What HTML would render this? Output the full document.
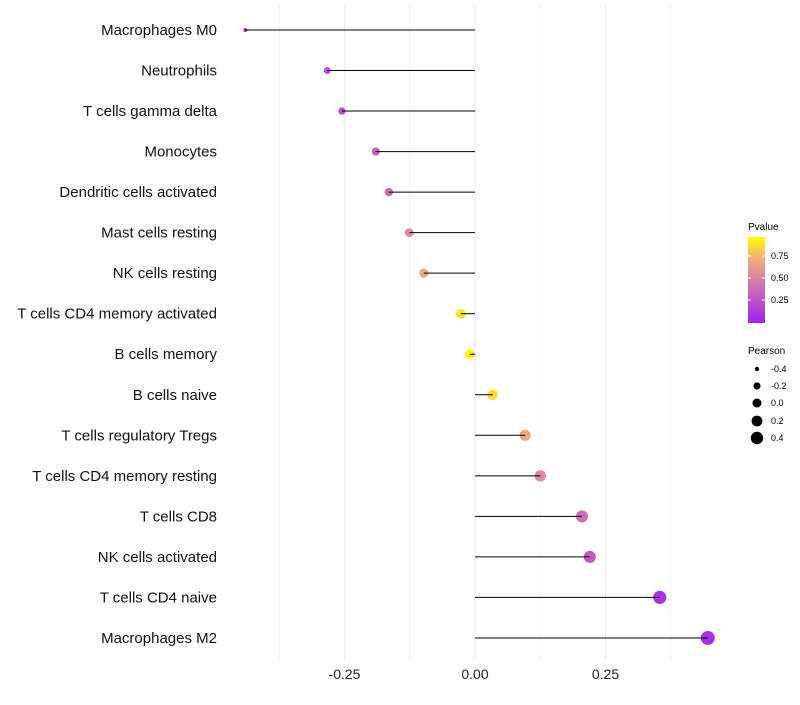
<!DOCTYPE html>
<html><head><meta charset="utf-8"><style>
body{margin:0;background:#fff;font-family:"Liberation Sans",sans-serif}
</style></head><body>
<svg id="c" width="800" height="700" xmlns="http://www.w3.org/2000/svg">
<defs><linearGradient id="pg" x1="0" y1="1" x2="0" y2="0">
<stop offset="0" stop-color="#A020F0"/><stop offset="0.5" stop-color="#D880A8"/><stop offset="0.75" stop-color="#F2B07A"/><stop offset="1" stop-color="#FFFF00"/></linearGradient></defs>
<g id="grid"></g><g id="dots"></g><g id="marks"></g><g id="labels"></g>
<g font-size="9" fill="#000">
<text x="748" y="230" font-size="10">Pvalue</text>
<rect x="748" y="237" width="17" height="86" fill="url(#pg)"/>
<line x1="748" y1="256" x2="751" y2="256" stroke="#fff"/><line x1="762" y1="256" x2="765" y2="256" stroke="#fff"/>
<line x1="748" y1="278" x2="751" y2="278" stroke="#fff"/><line x1="762" y1="278" x2="765" y2="278" stroke="#fff"/>
<line x1="748" y1="300" x2="751" y2="300" stroke="#fff"/><line x1="762" y1="300" x2="765" y2="300" stroke="#fff"/>
<text x="771" y="259">0.75</text><text x="771" y="281">0.50</text><text x="771" y="303">0.25</text>
</g>
<g font-size="9">
<text x="748" y="354" font-size="10">Pearson</text>
<circle cx="757" cy="369" r="2.2"/><text x="771" y="372">-0.4</text>
<circle cx="757" cy="386" r="3.6"/><text x="771" y="389">-0.2</text>
<circle cx="757" cy="403" r="4.5"/><text x="771" y="406">0.0</text>
<circle cx="757" cy="421" r="5.4"/><text x="771" y="424">0.2</text>
<circle cx="757" cy="438" r="6.2"/><text x="771" y="441">0.4</text>
</g>
</svg>
<script>
const categories=["Macrophages M0","Neutrophils","T cells gamma delta","Monocytes","Dendritic cells activated","Mast cells resting","NK cells resting","T cells CD4 memory activated","B cells memory","B cells naive","T cells regulatory  Tregs ","T cells CD4 memory resting","T cells CD8","NK cells activated","T cells CD4 naive","Macrophages M2"];
const pearson=[-0.44,-0.283,-0.255,-0.19,-0.165,-0.126,-0.098,-0.027,-0.01,0.034,0.096,0.125,0.205,0.22,0.354,0.446];
const pvalue=[0.05,0.2,0.25,0.35,0.4,0.55,0.7,0.92,0.97,0.9,0.7,0.55,0.4,0.3,0.1,0.08];
const xTicks=[-0.25,0,0.25];
const xTickLabels=["-0.25","0.00","0.25"];
const NS="http://www.w3.org/2000/svg";
const x=v=>475+v*522;
const y=i=>30+i*40.53;
const r=v=>Math.sqrt(4+(v+0.44)*50);
function lerp(a,b,t){return a.map((c,k)=>Math.round(c+(b[k]-c)*t));}
const stops=[[0,[160,32,240]],[0.5,[216,128,168]],[0.75,[242,176,122]],[1,[255,255,0]]];
function col(p){for(let k=1;k<stops.length;k++){if(p<=stops[k][0]){const t=(p-stops[k-1][0])/(stops[k][0]-stops[k-1][0]);return "rgb("+lerp(stops[k-1][1],stops[k][1],t).join(",")+")";}}return "rgb(255,255,0)";}
function mk(tag,at,parent){const e=document.createElementNS(NS,tag);for(const k in at)e.setAttribute(k,at[k]);document.getElementById(parent).appendChild(e);return e;}
for(let v=-0.375;v<=0.4;v+=0.125){const l=mk("line",{x1:x(v),x2:x(v),y1:5,y2:660,stroke:"#ebebeb","stroke-width":Math.abs((v/0.125)%2)===1?0.6:1.1},"grid");

}
xTicks.forEach((v,i)=>{const t=mk("text",{x:x(v),y:679,"text-anchor":"middle","font-size":"14",fill:"#222"},"labels");t.textContent=xTickLabels[i];

});
categories.forEach((c,i)=>{
const t=mk("text",{x:217,y:y(i)+5,"text-anchor":"end","font-size":"15",fill:"#111"},"labels");t.textContent=c;


const d=mk("circle",{cx:x(pearson[i]),cy:y(i),r:r(pearson[i]),fill:col(pvalue[i])},"dots");


const l=mk("line",{x1:x(0),x2:x(pearson[i]),y1:y(i),y2:y(i),stroke:"#000","stroke-width":1},"marks");


});
</script>
</body></html>
